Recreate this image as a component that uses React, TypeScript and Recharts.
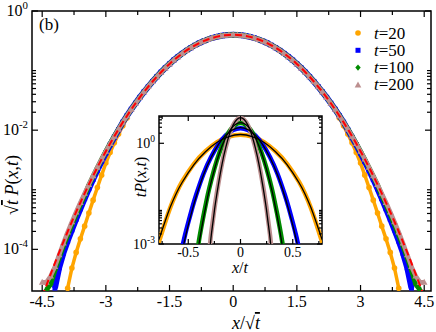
import React from 'react';
import { ComposedChart, Scatter, Line, XAxis, YAxis, ReferenceArea } from 'recharts';

const FONT = "'Liberation Serif', 'Times New Roman', serif";

// ---------- main panel: sqrt(t) P(x,t) vs x/sqrt(t) ----------
const sLeft = [-4.5, -4.4, -4.3, -4.2, -4.1, -4.0, -3.9, -3.8, -3.7, -3.6, -3.5, -3.4, -3.3, -3.2, -3.1, -3.0, -2.9, -2.8, -2.7, -2.6, -2.5];
const sBulk = [
  -2.4, -2.3, -2.2, -2.1, -2.0, -1.9, -1.8, -1.7, -1.6, -1.5, -1.4, -1.3, -1.2, -1.1, -1.0, -0.9, -0.8, -0.7, -0.6, -0.5, -0.4, -0.3, -0.2, -0.1,
  0, 0.1, 0.2, 0.3, 0.4, 0.5, 0.6, 0.7, 0.8, 0.9, 1.0, 1.1, 1.2, 1.3, 1.4, 1.5, 1.6, 1.7, 1.8, 1.9, 2.0, 2.1, 2.2, 2.3, 2.4,
];
const sRight = [2.5, 2.6, 2.7, 2.8, 2.9, 3.0, 3.1, 3.2, 3.3, 3.4, 3.5, 3.6, 3.7, 3.8, 3.9, 4.0, 4.1, 4.2, 4.3, 4.4, 4.5];

// all four times collapse here
const bulk = [
  0.0224, 0.0283, 0.0355, 0.044, 0.054, 0.0656, 0.079, 0.094, 0.111, 0.1295, 0.15, 0.171, 0.194, 0.218, 0.242, 0.266, 0.29, 0.312, 0.333, 0.352, 0.368, 0.381, 0.391, 0.397,
  0.399, 0.397, 0.391, 0.381, 0.368, 0.352, 0.333, 0.312, 0.29, 0.266, 0.242, 0.218, 0.194, 0.171, 0.15, 0.1295, 0.111, 0.094, 0.079, 0.0656, 0.054, 0.044, 0.0355, 0.0283, 0.0224,
];

// tails (left, right)
const t20L = [null, null, null, null, null, null, 0.0000223, 0.0000485, 0.0000888, 0.00015, 0.000245, 0.000407, 0.00067, 0.00109, 0.00176, 0.0028, 0.00421, 0.00613, 0.00865, 0.01185, 0.016];
const t20R = [0.016, 0.01185, 0.00865, 0.00613, 0.00421, 0.0028, 0.00176, 0.00109, 0.00067, 0.000407, 0.000245, 0.00015, 0.0000888, 0.0000485, 0.0000223, null, null, null, null, null, null];
const t50L = [null, null, null, 0.0000224, 0.0000491, 0.0000866, 0.000138, 0.000212, 0.000322, 0.00048, 0.00071, 0.00104, 0.0015, 0.00212, 0.00298, 0.00413, 0.00568, 0.00763, 0.0102, 0.0136, 0.0175];
const t50R = [0.0175, 0.0136, 0.0102, 0.00763, 0.00568, 0.00413, 0.00298, 0.00212, 0.0015, 0.00104, 0.00071, 0.00048, 0.000322, 0.000212, 0.000138, 0.0000866, 0.0000491, 0.0000224, null, null, null];
const t100L = [null, 0.000021, 0.000026, 0.0000445, 0.0000726, 0.000114, 0.000173, 0.00026, 0.000388, 0.000564, 0.00081, 0.0012, 0.00168, 0.00234, 0.00323, 0.0044, 0.00592, 0.0079, 0.0104, 0.0136, 0.0175];
const t100R = [0.0175, 0.0136, 0.0104, 0.0079, 0.00592, 0.0044, 0.00323, 0.00234, 0.00168, 0.0012, 0.00081, 0.000564, 0.000388, 0.00026, 0.000173, 0.000114, 0.0000726, 0.0000445, 0.000026, 0.000021, null];
const t200L = [0.000028, 0.000028, 0.0000357, 0.0000514, 0.0000815, 0.000128, 0.000195, 0.00029, 0.000425, 0.00061, 0.00087, 0.00123, 0.00172, 0.00238, 0.00327, 0.00443, 0.00595, 0.0079, 0.0104, 0.0136, 0.0175];
const t200R = [0.0175, 0.0136, 0.0104, 0.0079, 0.00595, 0.00443, 0.00327, 0.00238, 0.00172, 0.00123, 0.00087, 0.00061, 0.000425, 0.00029, 0.000195, 0.000128, 0.0000815, 0.0000514, 0.0000357, 0.000028, 0.000028];

// red dashed gaussian
const sFit = [...sLeft, ...sBulk, ...sRight];
const gaussFit = [
  0.000016, 0.0000249, 0.0000385, 0.0000589, 0.0000893, 0.000134, 0.000199, 0.000292, 0.000425, 0.00061, 0.00087, 0.00123, 0.00172, 0.00238, 0.00327, 0.00443, 0.00595, 0.0079, 0.0104, 0.0136, 0.0175,
  0.0224, 0.0283, 0.0355, 0.044, 0.054, 0.0656, 0.079, 0.094, 0.111, 0.1295, 0.15, 0.171, 0.194, 0.218, 0.242, 0.266, 0.29, 0.312, 0.333, 0.352, 0.368, 0.381, 0.391, 0.397,
  0.399, 0.397, 0.391, 0.381, 0.368, 0.352, 0.333, 0.312, 0.29, 0.266, 0.242, 0.218, 0.194, 0.171, 0.15, 0.1295, 0.111, 0.094, 0.079, 0.0656, 0.054, 0.044, 0.0355, 0.0283, 0.0224,
  0.0175, 0.0136, 0.0104, 0.0079, 0.00595, 0.00443, 0.00327, 0.00238, 0.00172, 0.00123, 0.00087, 0.00061, 0.000425, 0.000292, 0.000199, 0.000134, 0.0000893, 0.0000589, 0.0000385, 0.0000249, 0.000016,
];

const mainXTicks = [-4.5, -3.75, -3, -2.25, -1.5, -0.75, 0, 0.75, 1.5, 2.25, 3, 3.75, 4.5];
const mainXMajor = [-4.5, -3, -1.5, 0, 1.5, 3, 4.5];
const mainYTicks = [1, 0.1, 0.09, 0.08, 0.07, 0.06, 0.05, 0.04, 0.03, 0.02, 0.01, 0.001, 0.0009, 0.0008, 0.0007, 0.0006, 0.0005, 0.0004, 0.0003, 0.0002, 0.0001];
const mainYMajor = [1, 0.01, 0.0001];

// ---------- inset: t P(x,t) vs x/t ----------
const u20 = [-0.783, -0.727, -0.671, -0.615, -0.559, -0.447, -0.335, -0.224, -0.112, 0, 0.112, 0.224, 0.335, 0.447, 0.559, 0.615, 0.671, 0.727, 0.783];
const p20 = [0.0011, 0.00385, 0.0125, 0.0326, 0.0716, 0.2415, 0.579, 1.082, 1.575, 1.784, 1.575, 1.082, 0.579, 0.2415, 0.0716, 0.0326, 0.0125, 0.00385, 0.0011];
const f20 = [0.0013, 0.0042, 0.0128, 0.032, 0.068, 0.228, 0.56, 1.07, 1.59, 1.83, 1.59, 1.07, 0.56, 0.228, 0.068, 0.032, 0.0128, 0.0042, 0.0013];

const u50 = [-0.566, -0.53, -0.495, -0.46, -0.424, -0.354, -0.283, -0.212, -0.141, -0.071, 0, 0.071, 0.141, 0.212, 0.283, 0.354, 0.424, 0.46, 0.495, 0.53, 0.566];
const p50 = [0.00061, 0.0019, 0.005, 0.0125, 0.0292, 0.1237, 0.382, 0.916, 1.711, 2.49, 2.821, 2.49, 1.711, 0.916, 0.382, 0.1237, 0.0292, 0.0125, 0.005, 0.0019, 0.00061];
const f50 = [0.00045, 0.0015, 0.0042, 0.0108, 0.026, 0.115, 0.37, 0.91, 1.74, 2.56, 2.92, 2.56, 1.74, 0.91, 0.37, 0.115, 0.026, 0.0108, 0.0042, 0.0015, 0.00045];

const u100 = [-0.425, -0.4, -0.375, -0.35, -0.325, -0.3, -0.25, -0.2, -0.15, -0.1, -0.05, 0, 0.05, 0.1, 0.15, 0.2, 0.25, 0.3, 0.325, 0.35, 0.375, 0.4, 0.425];
const p100 = [0.00035, 0.00114, 0.00318, 0.00815, 0.0196, 0.0443, 0.175, 0.54, 1.295, 2.42, 3.521, 3.989, 3.521, 2.42, 1.295, 0.54, 0.175, 0.0443, 0.0196, 0.00815, 0.00318, 0.00114, 0.00035];
const f100 = [0.00025, 0.00088, 0.0026, 0.0069, 0.0172, 0.04, 0.165, 0.53, 1.31, 2.48, 3.63, 4.1, 3.63, 2.48, 1.31, 0.53, 0.165, 0.04, 0.0172, 0.0069, 0.0026, 0.00088, 0.00025];

const u200 = [-0.318, -0.3, -0.283, -0.265, -0.248, -0.23, -0.212, -0.177, -0.141, -0.106, -0.071, -0.035, 0, 0.035, 0.071, 0.106, 0.141, 0.177, 0.212, 0.23, 0.248, 0.265, 0.283, 0.3, 0.318];
const p200 = [0.0004, 0.0006, 0.00181, 0.00489, 0.0123, 0.0287, 0.0626, 0.2475, 0.764, 1.831, 3.422, 4.979, 5.641, 4.979, 3.422, 1.831, 0.764, 0.2475, 0.0626, 0.0287, 0.0123, 0.00489, 0.00181, 0.0006, 0.0004];
const f200 = [0.0003, 0.00048, 0.00148, 0.0042, 0.0109, 0.026, 0.058, 0.237, 0.752, 1.85, 3.5, 5.12, 5.8, 5.12, 3.5, 1.85, 0.752, 0.237, 0.058, 0.026, 0.0109, 0.0042, 0.00148, 0.00048, 0.0003];

const insetXTicks = [-0.75, -0.5, -0.25, 0, 0.25, 0.5, 0.75];
const insetXMajor = [-0.5, 0, 0.5];
const insetYTicks = [0.001, 0.002, 0.003, 0.004, 0.005, 0.006, 0.007, 0.008, 0.009, 0.01, 1, 2, 3, 4, 5, 6];
const insetYMajor = [0.001, 1];

const ORANGE = '#ffa500';
const BLUE = '#0000ff';
const GREEN = '#008b00';
const PINK = '#bc8f8f';

// plot boxes (page px)
const M = { left: 32, top: 11, right: 431, bottom: 291 };
const I = { left: 159, top: 116, right: 322, bottom: 244 };
const AX = 20; // axis band size (recharts skips axes of size 0)

const zip = (xs: number[], ys: (number | null)[]) =>
  xs.map((x, i) => ({ x, y: ys[i] })).filter((p) => p.y != null);

const series = (l: (number | null)[], r: (number | null)[]) => [...zip(sLeft, l), ...zip(sBulk, bulk), ...zip(sRight, r)];

const d20 = series(t20L, t20R);
const d50 = series(t50L, t50R);
const d100 = series(t100L, t100R);
const d200 = series(t200L, t200R);
const dFit = zip(sFit, gaussFit);

const Circle = (p: any) => <circle cx={p.cx} cy={p.cy} r={2.8} fill={ORANGE} />;
const Square = (p: any) => <rect x={p.cx - 2.5} y={p.cy - 2.5} width={5} height={5} fill={BLUE} />;
const Diamond = (p: any) => (
  <polygon points={`${p.cx},${p.cy - 3.1} ${p.cx + 2.7},${p.cy} ${p.cx},${p.cy + 3.1} ${p.cx - 2.7},${p.cy}`} fill={GREEN} />
);
const Triangle = (p: any) => (
  <polygon points={`${p.cx},${p.cy - 3.5} ${p.cx + 3.3},${p.cy + 2.5} ${p.cx - 3.3},${p.cy + 2.5}`} fill={PINK} />
);

const Pow = ({ x, y, exp, size, anchor }: any) => (
  <text x={x} y={y} textAnchor={anchor} fontFamily={FONT} fontSize={size} fill="#000">
    10
    <tspan dy={-size * 0.45} fontSize={size * 0.68}>{exp}</tspan>
  </text>
);

const makeXTick = (major: number[], h: number, fs: number, big: number, small: number, gap: number) => (props: any) => {
  const { x, y, payload } = props;
  const v = payload.value as number;
  const isMajor = major.includes(v);
  const len = isMajor ? big : small;
  return (
    <g>
      <line x1={x} x2={x} y1={y} y2={y - len} stroke="#000" strokeWidth={1.2} />
      <line x1={x} x2={x} y1={y - h} y2={y - h + len} stroke="#000" strokeWidth={1.2} />
      {isMajor && (
        <text x={x} y={y + gap} textAnchor="middle" fontFamily={FONT} fontSize={fs} fill="#000">
          {String(v)}
        </text>
      )}
    </g>
  );
};

const makeYTick = (major: number[], w: number, fs: number, big: number, small: number) => (props: any) => {
  const { x, y, payload } = props;
  const v = payload.value as number;
  const isMajor = major.includes(v);
  const len = isMajor ? big : small;
  return (
    <g>
      <line x1={x} x2={x + len} y1={y} y2={y} stroke="#000" strokeWidth={1.2} />
      <line x1={x + w} x2={x + w - len} y1={y} y2={y} stroke="#000" strokeWidth={1.2} />
      {isMajor && <Pow x={x - 4} y={y + 5} exp={String(Math.round(Math.log10(v)))} size={fs} anchor="end" />}
    </g>
  );
};

const MainXTick = makeXTick(mainXMajor, M.bottom - M.top, 16, 6, 4, 16);
const MainYTick = makeYTick(mainYMajor, M.right - M.left, 16, 6, 4);
const InsetXTick = makeXTick(insetXMajor, I.bottom - I.top, 14, 5, 3, 13);
const InsetYTick = makeYTick(insetYMajor, I.right - I.left, 14, 5, 3);

const legendRows = [
  { label: '20', mark: 'circle' },
  { label: '50', mark: 'square' },
  { label: '100', mark: 'diamond' },
  { label: '200', mark: 'triangle' },
];

function LegendMark({ mark, cx, cy }: any) {
  if (mark === 'circle') return <Circle cx={cx} cy={cy} />;
  if (mark === 'square') return <Square cx={cx} cy={cy} />;
  if (mark === 'diamond') return <Diamond cx={cx} cy={cy} />;
  return <Triangle cx={cx} cy={cy} />;
}

export default function App() {
  return (
    <div style={{ position: 'fixed', left: 0, top: 0, width: 436, height: 332, background: '#fff' }}>
      <div style={{ position: 'absolute', left: 0, top: 0 }}>
        <ComposedChart
          width={436}
          height={332}
          margin={{ top: M.top, left: M.left - AX, right: 436 - M.right, bottom: 332 - M.bottom - AX }}
        >
          <XAxis
            type="number"
            dataKey="x"
            domain={[-4.74, 4.66]}
            allowDataOverflow
            ticks={mainXTicks}
            interval={0}
            tick={MainXTick}
            tickLine={false}
            tickSize={0}
            tickMargin={0}
            height={AX}
            axisLine={false}
          />
          <YAxis
            type="number"
            dataKey="y"
            scale="log"
            domain={[0.00002, 1]}
            allowDataOverflow
            ticks={mainYTicks}
            interval={0}
            tick={MainYTick}
            tickLine={false}
            tickSize={0}
            tickMargin={0}
            width={AX}
            axisLine={false}
          />
          <Scatter data={d20} fill={ORANGE} shape={Circle} line={{ stroke: ORANGE, strokeWidth: 3.5 }} isAnimationActive={false} />
          <Scatter data={d50} fill={BLUE} shape={Square} line={{ stroke: BLUE, strokeWidth: 6 }} isAnimationActive={false} />
          <Scatter data={d100} fill={GREEN} shape={Diamond} line={{ stroke: GREEN, strokeWidth: 5 }} isAnimationActive={false} />
          <Scatter data={d200} fill={PINK} shape={Triangle} line={{ stroke: PINK, strokeWidth: 4.5 }} isAnimationActive={false} />
          <Line
            data={dFit}
            dataKey="y"
            type="linear"
            stroke="#ff0000"
            strokeWidth={2}
            strokeDasharray="7 4"
            dot={false}
            isAnimationActive={false}
            zIndex={700}
          />
          <ReferenceArea x1={-4.74} x2={4.66} y1={0.00002} y2={1} fill="none" stroke="#000" strokeWidth={1.5} ifOverflow="visible" />
        </ComposedChart>
      </div>

      <div style={{ position: 'absolute', left: 0, top: 0 }}>
        <ComposedChart
          width={436}
          height={332}
          margin={{ top: I.top, left: I.left - AX, right: 436 - I.right, bottom: 332 - I.bottom - AX }}
        >
          <XAxis
            type="number"
            dataKey="x"
            domain={[-0.78, 0.78]}
            allowDataOverflow
            ticks={insetXTicks}
            interval={0}
            tick={InsetXTick}
            tickLine={false}
            tickSize={0}
            tickMargin={0}
            height={AX}
            axisLine={false}
          />
          <YAxis
            type="number"
            dataKey="y"
            scale="log"
            domain={[0.001, 6.5]}
            allowDataOverflow
            ticks={insetYTicks}
            interval={0}
            tick={InsetYTick}
            tickLine={false}
            tickSize={0}
            tickMargin={0}
            width={AX}
            axisLine={false}
          />
          <Line data={zip(u20, p20)} dataKey="y" type="natural" stroke={ORANGE} strokeWidth={4.5} dot={false} isAnimationActive={false} />
          <Line data={zip(u50, p50)} dataKey="y" type="natural" stroke={BLUE} strokeWidth={4.5} dot={false} isAnimationActive={false} />
          <Line data={zip(u100, p100)} dataKey="y" type="natural" stroke={GREEN} strokeWidth={4.5} dot={false} isAnimationActive={false} />
          <Line data={zip(u200, p200)} dataKey="y" type="natural" stroke={PINK} strokeWidth={4.5} dot={false} isAnimationActive={false} />
          <Line data={zip(u20, f20)} dataKey="y" type="natural" stroke="#000" strokeWidth={1.3} dot={false} isAnimationActive={false} />
          <Line data={zip(u50, f50)} dataKey="y" type="natural" stroke="#000" strokeWidth={1.3} dot={false} isAnimationActive={false} />
          <Line data={zip(u100, f100)} dataKey="y" type="natural" stroke="#000" strokeWidth={1.3} dot={false} isAnimationActive={false} />
          <Line data={zip(u200, f200)} dataKey="y" type="natural" stroke="#000" strokeWidth={1.3} dot={false} isAnimationActive={false} />
          <ReferenceArea x1={-0.78} x2={0.78} y1={0.001} y2={6.5} fill="none" stroke="#000" strokeWidth={1.5} ifOverflow="visible" />
        </ComposedChart>
      </div>

      <svg width={436} height={332} style={{ position: 'absolute', left: 0, top: 0, pointerEvents: 'none' }}>
        <text x={39} y={30} fontFamily={FONT} fontSize={17} fill="#000">(b)</text>

        {legendRows.map((r, i) => {
          const cy = 33 + i * 17.3;
          return (
            <g key={r.label}>
              <LegendMark mark={r.mark} cx={358} cy={cy} />
              <text x={374} y={cy + 5.5} fontFamily={FONT} fontSize={17} fill="#000">
                <tspan fontStyle="italic">t</tspan>={r.label}
              </text>
            </g>
          );
        })}

        <text transform="translate(18,185) rotate(-90)" textAnchor="middle" fontFamily={FONT} fontSize={18} fill="#000">
          √<tspan fontStyle="italic" textDecoration="overline">t</tspan>{' '}
          <tspan fontStyle="italic">P</tspan>(<tspan fontStyle="italic">x</tspan>,<tspan fontStyle="italic">t</tspan>)
        </text>
        <text x={232} y={329} fontFamily={FONT} fontSize={18} fill="#000">
          <tspan fontStyle="italic">x</tspan>/√<tspan fontStyle="italic" textDecoration="overline">t</tspan>
        </text>

        <text transform="translate(146,177) rotate(-90)" textAnchor="middle" fontFamily={FONT} fontSize={16} fill="#000">
          <tspan fontStyle="italic">tP</tspan>(<tspan fontStyle="italic">x</tspan>,<tspan fontStyle="italic">t</tspan>)
        </text>
        <text x={240} y={273} textAnchor="middle" fontFamily={FONT} fontSize={16} fill="#000">
          <tspan fontStyle="italic">x</tspan>/<tspan fontStyle="italic">t</tspan>
        </text>
      </svg>
    </div>
  );
}
